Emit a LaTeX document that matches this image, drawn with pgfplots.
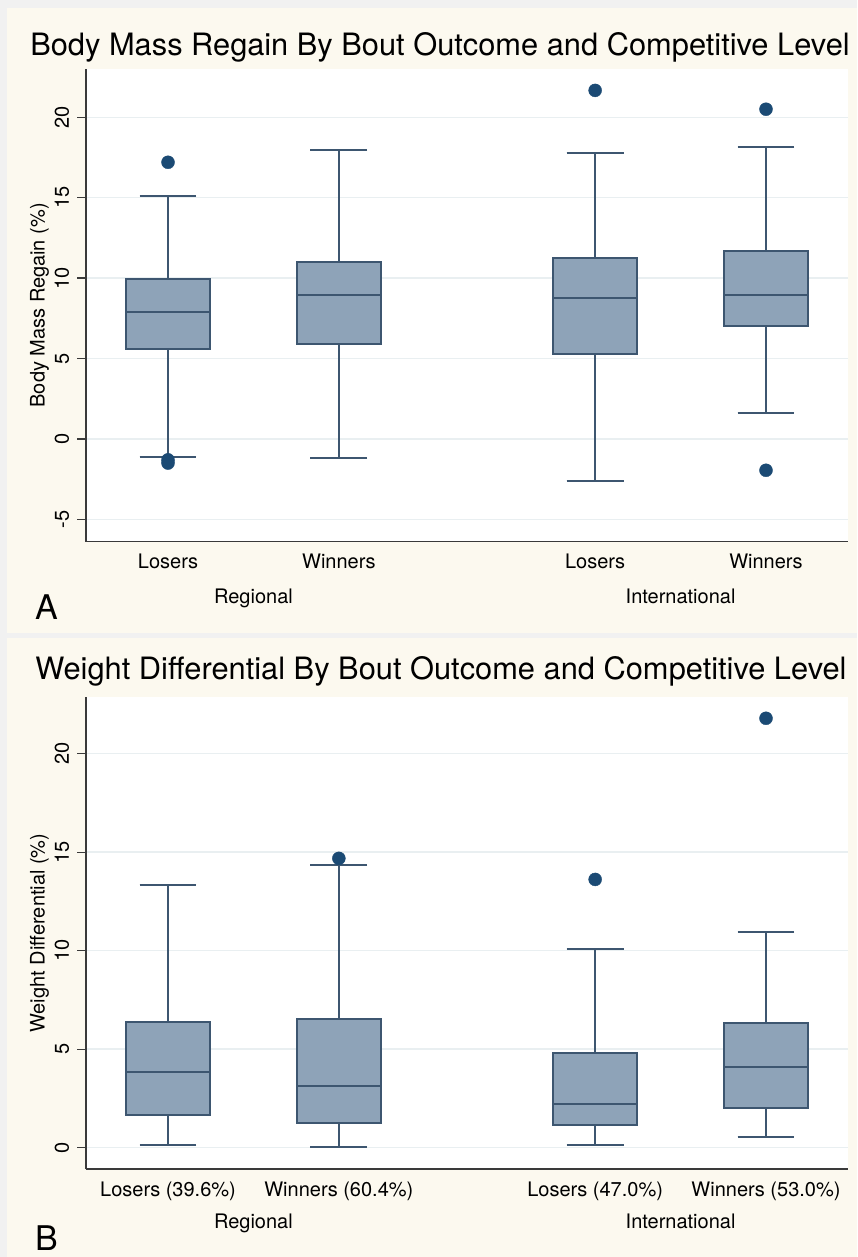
\documentclass[border=0pt]{standalone}
\usepackage{fontspec}
\setmainfont{TeX Gyre Heros}
\usepackage{pgfplots}
\pgfplotsset{compat=1.18}
\usepgfplotslibrary{statistics}
\definecolor{cream}{HTML}{FCF9EF}
\definecolor{edge}{HTML}{F1F1F1}
\definecolor{boxfill}{HTML}{8EA3B8}
\definecolor{boxline}{HTML}{3D5670}
\definecolor{dotc}{HTML}{1B4A74}
\definecolor{gridc}{HTML}{E9EFF1}
\definecolor{axc}{HTML}{3A3A3A}
\pgfplotsset{
 stbox/.style={
   scale only axis, width=762pt,
   xmin=0.52, xmax=4.98,
   axis x line*=bottom, axis y line*=left,
   axis line style={draw=axc, line width=1.3pt},
   xtick={1,2,3.5,4.5},
   x tick style={draw=none},
   y tick style={draw=axc, line width=1.3pt},
   tick align=outside, major tick length=9pt,
   ymajorgrids, grid style={draw=gridc, line width=1.5pt},
   tick label style={font=\fontsize{20}{24}\selectfont, inner sep=0pt, text=black},
   xticklabel style={anchor=base},
   xticklabel shift=18pt,
   yticklabel style={rotate=90, anchor=base},
   yticklabel shift=8pt,
   every axis y label/.style={at={(axis description cs:-0.05446,0.5)}, rotate=90, anchor=base, inner sep=0pt, font=\fontsize{20}{24}\selectfont},
   /pgf/number format/assume math mode=true,
   boxplot/draw direction=y,
   boxplot/box extend=0.49,
   boxplot/whisker extend=0.333,
   clip=false,
 },
 bx/.style={draw=boxline, fill=boxfill, line width=2pt, solid, mark=none},
 outl/.style={only marks, mark=*, mark size=6.5pt, color=dotc, fill=dotc},
}
\begin{document}
\begin{tikzpicture}
\useasboundingbox (0,0) rectangle (857pt,-1257pt);
\fill[edge] (0,0) rectangle (857pt,-1257pt);
\fill[cream] (7pt,-8pt) rectangle (857pt,-633pt);
\fill[cream] (7pt,-638pt) rectangle (857pt,-1257pt);
\fill[white] (86pt,-69pt) rectangle (848pt,-541.7pt);
\fill[white] (86pt,-697pt) rectangle (848pt,-1169pt);
\node[anchor=base, inner sep=0pt, font=\fontsize{30.8}{36}\selectfont] at (440pt,-56pt) {Body Mass Regain By Bout Outcome and Competitive Level};
\node[anchor=base, inner sep=0pt, font=\fontsize{30.8}{36}\selectfont] at (441pt,-679pt) {Weight Differential By Bout Outcome and Competitive Level};
\node[anchor=base west, inner sep=0pt, font=\fontsize{34}{40}\selectfont] at (35pt,-619pt) {A};
\node[anchor=base west, inner sep=0pt, font=\fontsize{34}{40}\selectfont] at (35pt,-1250pt) {B};

\begin{axis}[stbox, at={(86pt,-541.7pt)}, anchor=south west, height=472.7pt,
  ymin=-6.39, ymax=23.0, ytick={-5,0,5,10,15,20},
  xticklabels={Losers,Winners,Losers,Winners},
  ylabel={Body Mass Regain (\%)}]
\addplot[bx, boxplot prepared={draw position=1, lower whisker=-1.1, lower quartile=5.58, median=7.92, upper quartile=9.94, upper whisker=15.08}] coordinates {};
\addplot[bx, boxplot prepared={draw position=2, lower whisker=-1.2, lower quartile=5.89, median=8.96, upper quartile=11.0, upper whisker=17.94}] coordinates {};
\addplot[bx, boxplot prepared={draw position=3.5, lower whisker=-2.61, lower quartile=5.27, median=8.77, upper quartile=11.26, upper whisker=17.8}] coordinates {};
\addplot[bx, boxplot prepared={draw position=4.5, lower whisker=1.64, lower quartile=7.03, median=8.94, upper quartile=11.66, upper whisker=18.15}] coordinates {};
\addplot[outl] coordinates {(1,17.2) (1,-1.3) (1,-1.5) (3.5,21.67) (4.5,20.5) (4.5,-1.95)};
\node[anchor=base, yshift=-62pt, font=\fontsize{20}{24}\selectfont] at (axis cs:1.5,-6.39) {Regional};
\node[anchor=base, yshift=-62pt, font=\fontsize{20}{24}\selectfont] at (axis cs:4,-6.39) {International};
\end{axis}

\begin{axis}[stbox, at={(86pt,-1169pt)}, anchor=south west, height=472pt,
  ymin=-1.08, ymax=22.88, ytick={0,5,10,15,20},
  xticklabels={Losers (39.6\%),Winners (60.4\%),Losers (47.0\%),Winners (53.0\%)},
  ylabel={Weight Differential (\%)}]
\addplot[bx, boxplot prepared={draw position=1, lower whisker=0.12, lower quartile=1.64, median=3.83, upper quartile=6.36, upper whisker=13.35}] coordinates {};
\addplot[bx, boxplot prepared={draw position=2, lower whisker=0.05, lower quartile=1.25, median=3.15, upper quartile=6.52, upper whisker=14.35}] coordinates {};
\addplot[bx, boxplot prepared={draw position=3.5, lower whisker=0.12, lower quartile=1.17, median=2.22, upper quartile=4.79, upper whisker=10.07}] coordinates {};
\addplot[bx, boxplot prepared={draw position=4.5, lower whisker=0.56, lower quartile=2.02, median=4.1, upper quartile=6.33, upper whisker=10.95}] coordinates {};
\addplot[outl] coordinates {(2,14.69) (3.5,13.62) (4.5,21.8)};
\node[anchor=base, yshift=-59pt, font=\fontsize{20}{24}\selectfont] at (axis cs:1.5,-1.08) {Regional};
\node[anchor=base, yshift=-59pt, font=\fontsize{20}{24}\selectfont] at (axis cs:4,-1.08) {International};
\end{axis}
\end{tikzpicture}
\end{document}
